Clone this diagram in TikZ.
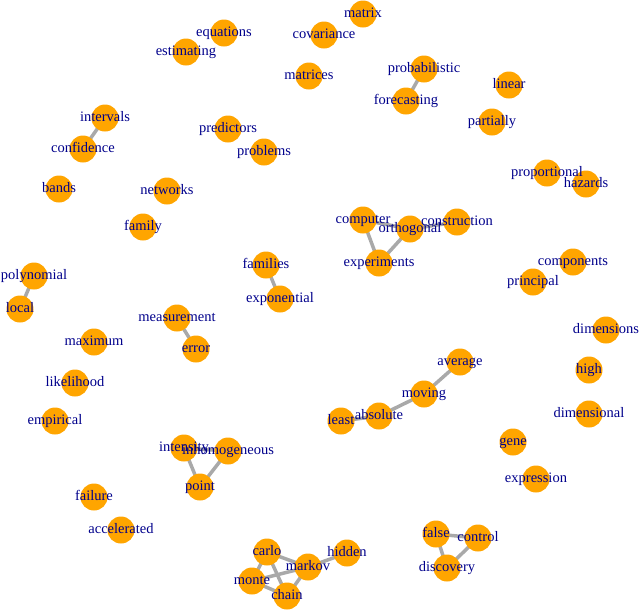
\documentclass[tikz,border=0pt]{standalone}
\usepackage{fontspec}
\setmainfont{Liberation Serif}
\definecolor{vorange}{RGB}{255,165,0}
\definecolor{egray}{RGB}{169,169,169}
\definecolor{lblue}{RGB}{0,0,139}
\pgfdeclarelayer{bg}
\pgfsetlayers{bg,main}
\tikzset{
  vtx/.style={circle,fill=vorange,draw=none,minimum size=27pt,inner sep=0pt},
  lbl/.style={text=lblue,font=\fontsize{14.5}{16}\selectfont,inner sep=0pt,text height=0.62em,text depth=0pt,anchor=center},
  edge/.style={draw=egray,line width=3.5pt}
}
\begin{document}
\begin{tikzpicture}[x=1pt,y=-1pt]
\useasboundingbox (0,0) rectangle (640,611);
% vertices
\foreach \n/\x/\y in {
equations/224/33, estimating/186/52, covariance/324/35, matrix/363/14, matrices/309/76,
probabilistic/424/69, forecasting/406/101, linear/509/85, partially/492/122,
intervals/105/118, confidence/83/149, predictors/228/129, problems/264/152,
bands/59/189, networks/167/191, family/143/227, proportional/547/173, hazards/586/184,
computer/363/220, orthogonal/410/229, construction/457/222, experiments/379/263,
families/266/265, exponential/280/299, components/573/262, principal/533/282,
polynomial/34/276, local/20/309, measurement/177/318, error/196/349,
maximum/94/342, likelihood/75/383, empirical/55/421,
dimensions/606/330, high/589/370, dimensional/589/414,
average/460/362, moving/424/394, absolute/379/416, least/341/421,
gene/513/442, expression/536/479,
intensity/184/448, inhomogeneous/228/451, point/200/487,
failure/94/497, accelerated/121/530,
carlo/267/552, markov/308/567, hidden/347/553, monte/252/581, chain/287/596,
false/436/534, control/478/538, discovery/447/568}
  \node[vtx] (\n) at (\x,\y) {};
% edges
\begin{pgfonlayer}{bg}
\foreach \a/\b in {intervals/confidence, probabilistic/forecasting,
  computer/orthogonal, computer/experiments, orthogonal/experiments, orthogonal/construction,
  families/exponential, polynomial/local, measurement/error,
  average/moving, moving/absolute, absolute/least,
  intensity/point, inhomogeneous/point, intensity/inhomogeneous,
  carlo/markov, carlo/chain, monte/markov, monte/chain, carlo/monte, markov/chain, markov/hidden,
  false/control, false/discovery, control/discovery}
  \draw[edge] (\a.center) -- (\b.center);
\end{pgfonlayer}
% labels
\foreach \n in {equations, estimating, covariance, matrix, matrices,
probabilistic, forecasting, linear, partially,
intervals, confidence, predictors, problems,
bands, networks, family, proportional, hazards,
computer, orthogonal, construction, experiments,
families, exponential, components, principal,
polynomial, local, measurement, error,
maximum, likelihood, empirical,
dimensions, high, dimensional,
average, moving, absolute, least,
gene, expression,
intensity, inhomogeneous, point,
failure, accelerated,
carlo, markov, hidden, monte, chain,
false, control, discovery}
  \node[lbl] (l-\n) at (\n) {\n};
\end{tikzpicture}
\end{document}
